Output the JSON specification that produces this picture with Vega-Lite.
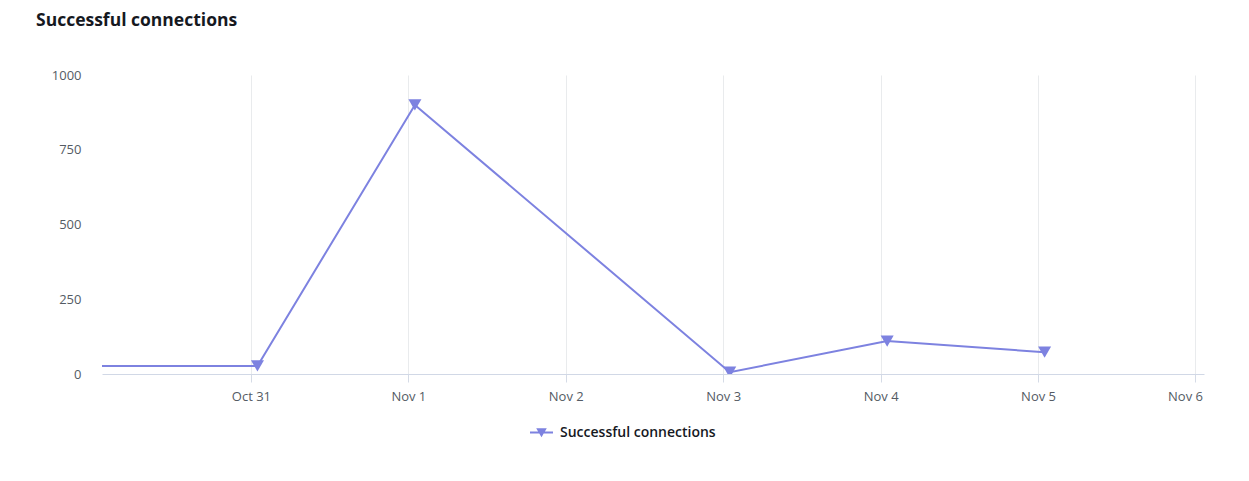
{
  "$schema": "https://vega.github.io/schema/vega-lite/v6.json",
  "autosize": "none",
  "width": 1102,
  "height": 299,
  "padding": {"left": 102, "top": 75, "right": 45, "bottom": 107},
  "background": "#ffffff",
  "title": {
    "text": "Successful connections",
    "anchor": "start",
    "frame": "group",
    "dx": -66,
    "offset": 40,
    "font": "Open Sans",
    "fontSize": 17.5,
    "fontWeight": 700,
    "color": "#16191f"
  },
  "data": {
    "values": [
      {"time": "2023-10-29T01:00:00", "value": 27},
      {"time": "2023-10-31T01:00:00", "value": 27},
      {"time": "2023-11-01T01:00:00", "value": 900},
      {"time": "2023-11-03T01:00:00", "value": 6},
      {"time": "2023-11-04T01:00:00", "value": 110},
      {"time": "2023-11-05T01:00:00", "value": 73}
    ]
  },
  "encoding": {
    "x": {
      "field": "time",
      "type": "temporal",
      "title": null,
      "scale": {
        "domain": [
          {"year": 2023, "month": 10, "date": 30, "hours": 1, "minutes": 18},
          {"year": 2023, "month": 11, "date": 6, "hours": 1, "minutes": 18}
        ]
      },
      "axis": {
        "tickCount": {"interval": "day", "step": 1},
        "format": "%b %-d",
        "grid": true,
        "gridColor": "#e9ebed",
        "gridWidth": 1,
        "domainColor": "#d1d8e6",
        "domainWidth": 1,
        "tickColor": "#d5dbe6",
        "tickSize": 8,
        "labelPadding": 8,
        "labelFont": "Open Sans",
        "labelFontSize": 13,
        "labelColor": "#545b64",
        "labelFlush": 20,
        "labelFlushOffset": 7
      }
    },
    "y": {
      "field": "value",
      "type": "quantitative",
      "title": null,
      "scale": {"domain": [0, 1000], "nice": false},
      "axis": {
        "values": [0, 250, 500, 750, 1000],
        "format": "d",
        "grid": false,
        "domain": false,
        "ticks": false,
        "labelPadding": 21,
        "labelFont": "Open Sans",
        "labelFontSize": 13,
        "labelColor": "#545b64"
      }
    },
    "color": {
      "datum": "Successful connections",
      "type": "nominal",
      "scale": {"range": ["#7d82e0"]},
      "legend": {
        "title": null,
        "orient": "none",
        "legendX": 428,
        "legendY": 346,
        "symbolType": "M-1,-0.09H1V0.09H-1Z M-0.46,-0.36H0.46L0,0.42Z",
        "symbolSize": 529,
        "symbolStrokeWidth": 0,
        "symbolFillColor": "#7d82e0",
        "symbolOpacity": 1,
        "labelFont": "Open Sans",
        "labelFontSize": 14,
        "labelFontWeight": 600,
        "labelColor": "#16191f",
        "labelOffset": 7
      }
    }
  },
  "layer": [
    {"mark": {"type": "line", "strokeWidth": 2, "clip": true}},
    {"mark": {"type": "point", "shape": "triangle-down", "filled": true, "opacity": 1, "size": 170, "clip": true}}
  ],
  "config": {
    "view": {"stroke": null}
  }
}
